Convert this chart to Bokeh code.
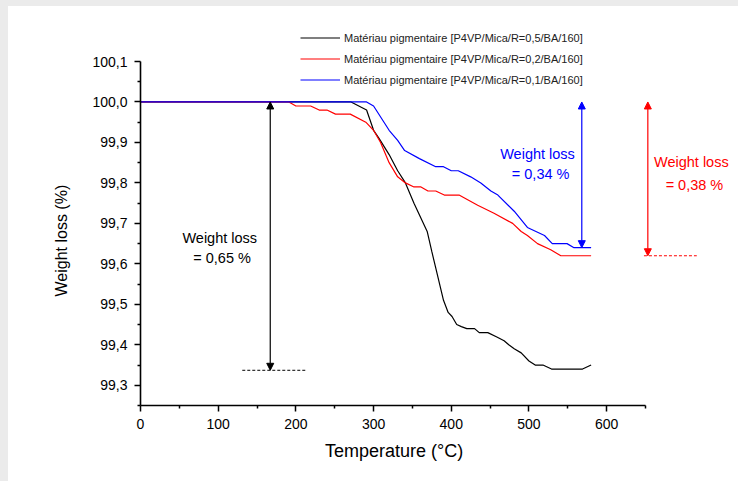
from bokeh.plotting import figure
from bokeh.models import (FixedTicker, CustomJSTickFormatter, Range1d, Legend, LegendItem,
                          Label, Arrow, NormalHead, Spacer, Title)
from bokeh.layouts import column, row
from bokeh.embed import file_html
from bokeh.resources import INLINE

# ---------------- data ----------------
series_names = [
    "Matériau pigmentaire [P4VP/Mica/R=0,5/BA/160]",
    "Matériau pigmentaire [P4VP/Mica/R=0,2/BA/160]",
    "Matériau pigmentaire [P4VP/Mica/R=0,1/BA/160]",
]
series_colors = ["#000000", "#ff0000", "#0000ff"]

t_black = [0, 271, 291, 300, 307, 320, 331, 341, 352, 369, 375, 380, 390, 396, 401, 407, 413,
           420, 430, 436, 447, 458, 468, 474, 481, 490, 500, 508, 518, 529, 569, 580]
w_black = [100.0, 100.0, 99.98, 99.93, 99.91, 99.87, 99.83, 99.80, 99.75, 99.68, 99.63, 99.59,
           99.51, 99.48, 99.47, 99.45, 99.445, 99.44, 99.44, 99.43, 99.43, 99.42, 99.41, 99.40,
           99.39, 99.38, 99.36, 99.35, 99.35, 99.34, 99.34, 99.35]

t_red = [0, 191, 200, 219, 230, 240, 251, 270, 290, 300, 309, 320, 331, 341, 352, 361, 370, 380,
         391, 410, 434, 455, 479, 490, 498, 511, 528, 541, 580]
w_red = [100.0, 100.0, 99.99, 99.99, 99.98, 99.98, 99.97, 99.97, 99.95, 99.93, 99.90, 99.85,
         99.815, 99.80, 99.79, 99.79, 99.78, 99.78, 99.77, 99.77, 99.745, 99.725, 99.70, 99.68,
         99.67, 99.65, 99.635, 99.62, 99.62]

t_blue = [0, 291, 300, 320, 331, 340, 359, 380, 390, 400, 409, 425, 438, 451, 460, 481, 498, 520,
          530, 549, 558, 580]
w_blue = [100.0, 100.0, 99.99, 99.93, 99.905, 99.88, 99.86, 99.84, 99.84, 99.83, 99.83, 99.815,
          99.80, 99.78, 99.77, 99.73, 99.69, 99.67, 99.65, 99.65, 99.64, 99.64]

x_axis_span = [0, 650]
y_axis_span = [99.25, 100.1]
x_ticks = [0, 100, 200, 300, 400, 500, 600]
x_minor = [50, 150, 250, 350, 450, 550, 650]
y_ticks = [99.3, 99.4, 99.5, 99.6, 99.7, 99.8, 99.9, 100.0, 100.1]
y_minor = [99.25, 99.35, 99.45, 99.55, 99.65, 99.75, 99.85, 99.95, 100.05]
x_label = "Temperature (°C)"
y_label = "Weight loss (%)"

# weight-loss annotations
loss_colors = ["#000000", "#0000ff", "#ff0000"]
loss_arrow_x = [167, 568, 653]
loss_top = [100.0, 100.0, 100.0]
loss_bottom = [99.337, 99.64, 99.62]
loss_dash_x0 = [131, None, 648]
loss_dash_x1 = [213, None, 716]
loss_text1 = ["Weight loss", "Weight loss", "Weight loss"]
loss_text2 = ["= 0,65 %", "= 0,34 %", "= 0,38 %"]
loss_text_x1 = [102, 511, 709]
loss_text_y1 = [99.663, 99.872, 99.851]
loss_text_x2 = [105, 515, 713]
loss_text_y2 = [99.614, 99.823, 99.796]

FONT = "Liberation Sans"

# figure geometry (pixels inside the figure)
W, H = 730, 475
AX_LEFT, AX_RIGHT, AX_TOP, AX_BOTTOM = 132, 637, 55, 399   # where the axes span
FRAME_TOP = 10                                              # plotting area extends above / right
x_end = x_axis_span[0] + (x_axis_span[1] - x_axis_span[0]) * (W - AX_LEFT) / (AX_RIGHT - AX_LEFT)
y_end = y_axis_span[0] + (y_axis_span[1] - y_axis_span[0]) * (AX_BOTTOM - FRAME_TOP) / (AX_BOTTOM - AX_TOP)

p = figure(width=W, height=H, output_backend="svg", toolbar_location=None,
           x_range=Range1d(x_axis_span[0], x_end), y_range=Range1d(y_axis_span[0], y_end),
           min_border_left=AX_LEFT, min_border_right=0, min_border_top=FRAME_TOP,
           min_border_bottom=H - AX_BOTTOM)
p.outline_line_color = None
p.grid.visible = False
p.background_fill_color = "white"
p.border_fill_color = "white"

p.xaxis.bounds = tuple(x_axis_span)
p.yaxis.bounds = tuple(y_axis_span)
p.xaxis.ticker = FixedTicker(ticks=x_ticks, minor_ticks=x_minor)
p.yaxis.ticker = FixedTicker(ticks=y_ticks, minor_ticks=y_minor)
p.yaxis.formatter = CustomJSTickFormatter(code="return tick.toFixed(1).replace('.', ',');")
p.xaxis.formatter = CustomJSTickFormatter(code="return tick.toFixed(0);")

for ax in (p.xaxis[0], p.yaxis[0]):
    ax.axis_line_width = 1.6
    ax.axis_line_color = "black"
    ax.major_tick_line_color = "black"
    ax.minor_tick_line_color = "black"
    ax.major_tick_line_width = 1.5
    ax.minor_tick_line_width = 1.5
    ax.major_tick_out = 6
    ax.major_tick_in = 0
    ax.minor_tick_out = 3
    ax.minor_tick_in = 0
    ax.major_label_text_font = FONT
    ax.major_label_text_font_size = "14px"
    ax.major_label_text_color = "black"
    ax.major_label_standoff = 7

# axis titles centred on the axis spans (not on the enlarged plotting area)
x_title_w = 136
y_title_w = 114
x_title = Title(text=x_label, align="left",
                offset=(AX_RIGHT - AX_LEFT) / 2 - x_title_w / 2,
                text_font=FONT, text_font_size="18px", text_font_style="normal",
                text_color="black", standoff=14)
y_title = Title(text=y_label, align="left",
                offset=(AX_BOTTOM - AX_TOP) / 2 - y_title_w / 2 - 6,
                text_font=FONT, text_font_size="16px", text_font_style="normal",
                text_color="black", standoff=39)
p.add_layout(x_title, "below")
p.add_layout(y_title, "left")

r_black = p.line(t_black, w_black, line_color=series_colors[0], line_width=1.2)
r_red = p.line(t_red, w_red, line_color=series_colors[1], line_width=1.2)
r_blue = p.line(t_blue, w_blue, line_color=series_colors[2], line_width=1.2)

legend = Legend(items=[LegendItem(label=series_names[0], renderers=[r_black]),
                       LegendItem(label=series_names[1], renderers=[r_red]),
                       LegendItem(label=series_names[2], renderers=[r_blue])],
                location=(160, 315), padding=0, margin=0, spacing=0,
                glyph_width=40, glyph_height=21, label_height=21, label_standoff=4,
                label_text_font=FONT, label_text_font_size="11px", label_text_color="#222222",
                border_line_color=None, background_fill_alpha=0)
p.add_layout(legend, "center")

for i in range(3):
    c = loss_colors[i]
    p.add_layout(Arrow(x_start=loss_arrow_x[i], x_end=loss_arrow_x[i],
                       y_start=loss_bottom[i], y_end=loss_top[i],
                       line_color=c, line_width=1.2,
                       start=NormalHead(size=7, fill_color=c, line_color=c),
                       end=NormalHead(size=7, fill_color=c, line_color=c)))
    if loss_dash_x0[i] is not None:
        p.add_layout(Arrow(x_start=loss_dash_x0[i], x_end=loss_dash_x1[i],
                           y_start=loss_bottom[i], y_end=loss_bottom[i],
                           line_color=c, line_width=1, line_dash="3 2", end=None))
    p.add_layout(Label(x=loss_text_x1[i], y=loss_text_y1[i], text=loss_text1[i],
                       text_align="center", text_baseline="middle", text_color=c,
                       text_font=FONT, text_font_size="14.5px"))
    p.add_layout(Label(x=loss_text_x2[i], y=loss_text_y2[i], text=loss_text2[i],
                       text_align="center", text_baseline="middle", text_color=c,
                       text_font=FONT, text_font_size="14.5px"))

bg = {"background-color": "#ebebeb"}
layout = column(Spacer(width=738, height=6, styles=bg),
                row(Spacer(width=8, height=H, styles=bg), p, spacing=0),
                spacing=0)

open("out.html", "w").write(file_html(layout, INLINE))
